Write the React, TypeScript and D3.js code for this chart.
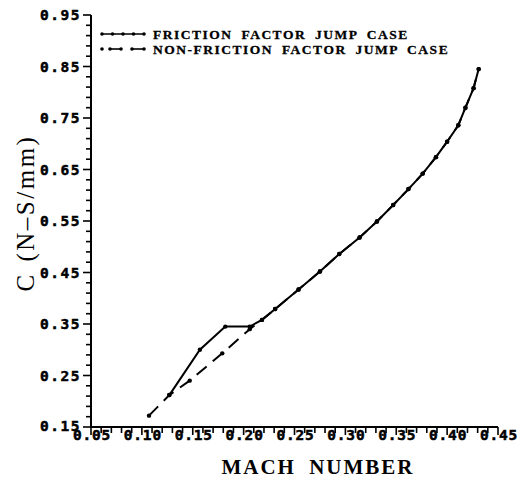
import { useEffect, useRef } from "react";
import * as d3 from "d3";

// Mach number / damping C readings, friction factor jump case (solid)
const machFriction = [0.127, 0.157, 0.182, 0.206, 0.218, 0.231, 0.254, 0.275, 0.294, 0.314, 0.331, 0.347, 0.362, 0.376, 0.389, 0.400, 0.411, 0.418, 0.426, 0.431];
const cFriction = [0.212, 0.300, 0.345, 0.345, 0.358, 0.379, 0.417, 0.452, 0.486, 0.518, 0.549, 0.581, 0.612, 0.642, 0.674, 0.704, 0.736, 0.770, 0.808, 0.845];

// non-friction factor jump case (dashed)
const machNonFriction = [0.107, 0.127, 0.147, 0.179, 0.206, 0.218, 0.231, 0.254, 0.275, 0.294, 0.314, 0.331, 0.347, 0.362, 0.376, 0.389, 0.400, 0.411, 0.418, 0.426, 0.431];
const cNonFriction = [0.172, 0.212, 0.240, 0.293, 0.340, 0.358, 0.379, 0.417, 0.452, 0.486, 0.518, 0.549, 0.581, 0.612, 0.642, 0.674, 0.704, 0.736, 0.770, 0.808, 0.845];

const xTickLabels = ["0.05", "0.10", "0.15", "0.20", "0.25", "0.30", "0.35", "0.40", "0.45"];
const yTickLabels = ["0.15", "0.25", "0.35", "0.45", "0.55", "0.65", "0.75", "0.85", "0.95"];

const legendLabels = ["FRICTION FACTOR JUMP CASE", "NON-FRICTION FACTOR JUMP CASE"];

const tickFont = "DejaVu Sans Mono";
const serif = "Liberation Serif";

const App = () => {
  const ref = useRef<SVGSVGElement | null>(null);

  useEffect(() => {
    const svg = d3.select(ref.current);
    svg.selectAll("*").remove();

    const x = d3.scaleLinear().domain([0.05, 0.45]).range([91, 498]);
    const y = d3.scaleLinear().domain([0.15, 0.95]).range([427, 15]);

    const g = svg.append("g");

    // axes lines
    g.append("line")
      .attr("x1", x(0.05)).attr("x2", x(0.05))
      .attr("y1", y(0.15)).attr("y2", y(0.95))
      .attr("stroke", "black").attr("stroke-width", 2);
    g.append("line")
      .attr("x1", x(0.05) - 1).attr("x2", x(0.45))
      .attr("y1", y(0.15)).attr("y2", y(0.15))
      .attr("stroke", "black").attr("stroke-width", 2);

    // y ticks every 0.02, labels every 0.1
    const yTicks = d3.range(0, 41).map((i) => 0.15 + i * 0.02);
    g.selectAll(".ytick")
      .data(yTicks)
      .enter()
      .append("line")
      .attr("x1", (d, i) => x(0.05) - (i % 5 === 0 ? 8 : 5))
      .attr("x2", x(0.05))
      .attr("y1", (d) => y(d))
      .attr("y2", (d) => y(d))
      .attr("stroke", "black")
      .attr("stroke-width", 1.6);

    g.selectAll(".ylab")
      .data(yTickLabels)
      .enter()
      .append("text")
      .attr("x", 81)
      .attr("y", (d, i) => y(+d) + (i === 0 ? 3.5 : 5))
      .attr("text-anchor", "end")
      .style("font-family", tickFont)
      .style("font-weight", "bold")
      .style("font-size", "14.5px")
      .style("letter-spacing", "1.5px")
      .style("stroke", "black")
      .style("stroke-width", "0.5px")
      .text((d) => d);

    // x ticks every 0.01, labels every 0.05
    const xTicks = d3.range(0, 41).map((i) => 0.05 + i * 0.01);
    g.selectAll(".xtick")
      .data(xTicks)
      .enter()
      .append("line")
      .attr("x1", (d) => x(d))
      .attr("x2", (d) => x(d))
      .attr("y1", y(0.15))
      .attr("y2", (d, i) => y(0.15) + (i % 5 === 0 ? 8 : 6))
      .attr("stroke", "black")
      .attr("stroke-width", 1.6);

    g.selectAll(".xlab")
      .data(xTickLabels)
      .enter()
      .append("text")
      .attr("x", (d) => x(+d) + 1)
      .attr("y", 440)
      .attr("text-anchor", "middle")
      .style("font-family", tickFont)
      .style("font-weight", "bold")
      .style("font-size", "14.5px")
      .style("letter-spacing", "0.8px")
      .style("stroke", "black")
      .style("stroke-width", "0.5px")
      .text((d) => d);

    // axis titles
    svg.append("text")
      .attr("x", 318)
      .attr("y", 474)
      .attr("text-anchor", "middle")
      .style("font-family", serif)
      .style("font-weight", "bold")
      .style("font-size", "21px")
      .style("letter-spacing", "2px")
      .style("word-spacing", "6px")
      .text("MACH NUMBER");

    svg.append("text")
      .attr("transform", "translate(34,213) rotate(-90)")
      .attr("text-anchor", "middle")
      .style("font-family", serif)
      .style("font-size", "25px")
      .style("letter-spacing", "2.5px")
      .style("word-spacing", "2px")
      .text("C (N\u2013S/mm)");

    const line = d3.line<[number, number]>()
      .x((d) => x(d[0]))
      .y((d) => y(d[1]));

    const nonFriction: [number, number][] = machNonFriction.map((m, i) => [m, cNonFriction[i]]);
    const friction: [number, number][] = machFriction.map((m, i) => [m, cFriction[i]]);

    g.append("path")
      .datum(nonFriction)
      .attr("d", line)
      .attr("fill", "none")
      .attr("stroke", "black")
      .attr("stroke-width", 2)
      .attr("stroke-dasharray", "13 8");

    g.append("path")
      .datum(friction)
      .attr("d", line)
      .attr("fill", "none")
      .attr("stroke", "black")
      .attr("stroke-width", 2);

    g.selectAll(".pt")
      .data([...nonFriction, ...friction])
      .enter()
      .append("circle")
      .attr("cx", (d) => x(d[0]))
      .attr("cy", (d) => y(d[1]))
      .attr("r", 2.2)
      .attr("fill", "black");

    // legend
    const legend = svg.append("g");
    const rows = [34, 49];
    legend.append("line")
      .attr("x1", 102).attr("x2", 144).attr("y1", rows[0]).attr("y2", rows[0])
      .attr("stroke", "black").attr("stroke-width", 1.6);
    [102, 112.5, 123, 133.5, 144].forEach((px) => {
      legend.append("circle").attr("cx", px).attr("cy", rows[0]).attr("r", 1.8).attr("fill", "black");
    });
    [[110, 121], [132, 144]].forEach(([a, b]) => {
      legend.append("line")
        .attr("x1", a).attr("x2", b).attr("y1", rows[1]).attr("y2", rows[1])
        .attr("stroke", "black").attr("stroke-width", 1.6);
    });
    [102, 110, 121, 132, 144].forEach((px) => {
      legend.append("circle").attr("cx", px).attr("cy", rows[1]).attr("r", 1.8).attr("fill", "black");
    });
    legend.selectAll(".ltext")
      .data(legendLabels)
      .enter()
      .append("text")
      .attr("x", 153)
      .attr("y", (d, i) => rows[i] + 5)
      .style("font-family", serif)
      .style("font-weight", "bold")
      .style("font-size", "13.5px")
      .style("letter-spacing", "1.5px")
      .style("word-spacing", "4px")
      .style("stroke", "black")
      .style("stroke-width", "0.3px")
      .text((d) => d);

    return () => {
      svg.selectAll("*").remove();
    };
  }, []);

  return (
    <svg
      ref={ref}
      width={531}
      height={480}
      style={{ position: "absolute", left: 0, top: 0, background: "white" }}
    />
  );
};

export default App;
